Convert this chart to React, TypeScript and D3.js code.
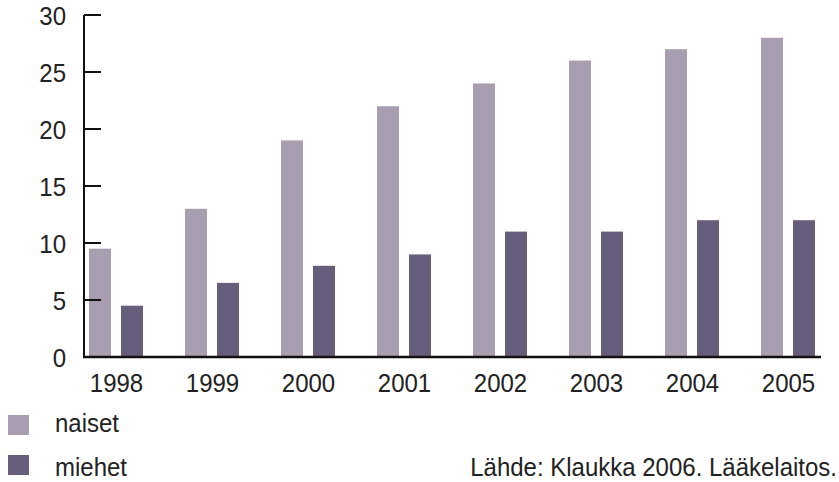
import React from "react";
import * as d3 from "d3";

const years = ["1998", "1999", "2000", "2001", "2002", "2003", "2004", "2005"];
const series = ["naiset", "miehet"];
const naiset = [9.5, 13, 19, 22, 24, 26, 27, 28];
const miehet = [4.5, 6.5, 8, 9, 11, 11, 12, 12];
const yTicks = [0, 5, 10, 15, 20, 25, 30];
const source = "Lähde: Klaukka 2006. Lääkelaitos.";

const colors: Record<string, string> = { naiset: "#a99eb0", miehet: "#675e7c" };
const FONT = "'Liberation Sans', Arial, sans-serif";
const SY = 1.07;

export default function App() {
  const W = 839, H = 482;
  const axisX = 84;
  const x = d3.scaleBand<string>().domain(years).range([68, 836]);
  const xi = d3.scaleBand<string>().domain(series).range([21, 75]).paddingInner(0.3125);
  const y = d3.scaleLinear().domain([0, 30]).range([357, 15]);
  const values: Record<string, number[]> = { naiset, miehet };

  const label = (tx: number, ty: number, anchor: string, txt: string, size = 24) => (
    <text
      transform={`translate(${tx},${ty}) scale(1,${SY})`}
      textAnchor={anchor}
      fontSize={size}
      fontFamily={FONT}
      fill="#222"
    >
      {txt}
    </text>
  );

  return (
    <svg width={W} height={H} style={{ position: "absolute", left: 0, top: 0 }}>
      <rect width={W} height={H} fill="#fff" />
      {years.map((yr, i) =>
        series.map((s) => {
          const v = values[s][i];
          return (
            <rect
              key={yr + s}
              x={(x(yr) as number) + (xi(s) as number)}
              y={y(v)}
              width={xi.bandwidth()}
              height={y(0) - y(v)}
              fill={colors[s]}
            />
          );
        })
      )}
      <line x1={axisX} x2={axisX} y1={y(30)} y2={y(0) + 1} stroke="#111" strokeWidth={2} />
      <line x1={axisX - 1} x2={821} y1={y(0)} y2={y(0)} stroke="#111" strokeWidth={2.5} />
      {yTicks.map((t) => (
        <g key={t}>
          <line x1={axisX} x2={101} y1={y(t)} y2={y(t)} stroke="#111" strokeWidth={2} />
          {label(66, y(t) + 10, "end", String(t))}
        </g>
      ))}
      {years.map((yr) => (
        <g key={yr}>{label((x(yr) as number) + 48.5, 392, "middle", yr)}</g>
      ))}
      {series.map((s, i) => (
        <g key={s}>
          <rect x={8} y={415 + i * 40} width={21} height={20} fill={colors[s]} />
          {label(55, 432 + i * 44, "start", s)}
        </g>
      ))}
      {label(837, 476, "end", source)}
    </svg>
  );
}
